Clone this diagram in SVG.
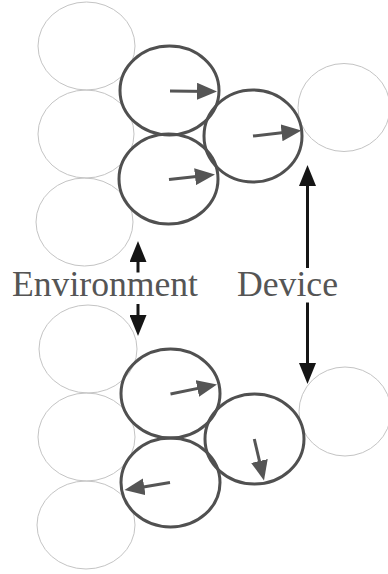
<svg xmlns="http://www.w3.org/2000/svg" width="388" height="574" viewBox="0 0 388 574">
  <style>
    .light { fill: none; stroke: #c4c4c4; stroke-width: 1; }
    .dark { fill: none; stroke: #505050; stroke-width: 3; }
    .inner { fill: none; stroke: #555555; stroke-width: 3; marker-end: url(#headS); }
    .big { fill: none; stroke: #151515; stroke-width: 3; marker-end: url(#headL); }
  </style>
  <defs>
    <marker id="headS" markerUnits="userSpaceOnUse" markerWidth="20" markerHeight="17" viewBox="0 0 20 17" refX="13" refY="8.5" orient="auto">
      <path d="M0,0 L20,8.5 L0,17 z" fill="#555555"/>
    </marker>
    <marker id="headL" markerUnits="userSpaceOnUse" markerWidth="21" markerHeight="17" viewBox="0 0 21 17" refX="14" refY="8.5" orient="auto">
      <path d="M0,0 L21,8.5 L0,17 z" fill="#151515"/>
    </marker>
  </defs>
  <rect width="388" height="574" fill="#ffffff"/>

  <!-- top group -->
  <g id="env-top-1"><ellipse class="light" cx="86.5" cy="46" rx="48.5" ry="44"/></g>
  <g id="env-top-2"><ellipse class="light" cx="86" cy="134" rx="48" ry="44"/></g>
  <g id="env-top-3"><ellipse class="light" cx="84.5" cy="222" rx="48.5" ry="44"/></g>
  <g id="dev-top"><ellipse class="light" cx="344" cy="107.5" rx="46" ry="44"/></g>
  <g id="top-a"><ellipse class="dark" cx="169.5" cy="90.5" rx="49.5" ry="44.5"/></g>
  <g id="top-b"><ellipse class="dark" cx="168.5" cy="179" rx="49.5" ry="45"/></g>
  <g id="top-c"><ellipse class="dark" cx="253" cy="136" rx="49" ry="46"/></g>

  <!-- bottom group -->
  <g id="env-bot-1"><ellipse class="light" cx="88" cy="349" rx="49" ry="44"/></g>
  <g id="env-bot-2"><ellipse class="light" cx="86.5" cy="437" rx="48.5" ry="44"/></g>
  <g id="env-bot-3"><ellipse class="light" cx="86" cy="525" rx="49" ry="44"/></g>
  <g id="dev-bot"><ellipse class="light" cx="345" cy="411.5" rx="46" ry="44.5"/></g>
  <g id="bot-a"><ellipse class="dark" cx="170.5" cy="393.5" rx="49.5" ry="44.5"/></g>
  <g id="bot-b"><ellipse class="dark" cx="170.5" cy="482.5" rx="49.5" ry="44.5"/></g>
  <g id="bot-c"><ellipse class="dark" cx="254.5" cy="439" rx="49.5" ry="45"/></g>

  <!-- labels -->
  <g id="label-environment"><text x="12" y="296" font-family="'Liberation Serif', 'DejaVu Serif', serif" font-size="35.5" fill="#555555" textLength="186" lengthAdjust="spacingAndGlyphs">Environment</text></g>
  <g id="label-device"><text x="237" y="296" font-family="'Liberation Serif', 'DejaVu Serif', serif" font-size="35.5" fill="#555555" textLength="101" lengthAdjust="spacingAndGlyphs">Device</text></g>

  <!-- connectors -->
  <g id="connectors">
    <line class="inner" x1="170" y1="91" x2="210" y2="91.4"/>
    <line class="inner" x1="169" y1="179.5" x2="208" y2="175.3"/>
    <line class="inner" x1="253" y1="136" x2="294.5" y2="131.3"/>
    <line class="inner" x1="170.5" y1="394" x2="210.1" y2="385.9"/>
    <line class="inner" x1="254.3" y1="439" x2="262.4" y2="473.7"/>
    <line class="inner" x1="170" y1="482.5" x2="131.4" y2="488.9"/>

    <line class="big" x1="138" y1="272.5" x2="138" y2="248"/>
    <line class="big" x1="138" y1="304" x2="138" y2="329"/>
    <line class="big" x1="307.5" y1="268" x2="307.5" y2="172"/>
    <line class="big" x1="307.5" y1="302.5" x2="307.5" y2="377"/>
  </g>
</svg>
